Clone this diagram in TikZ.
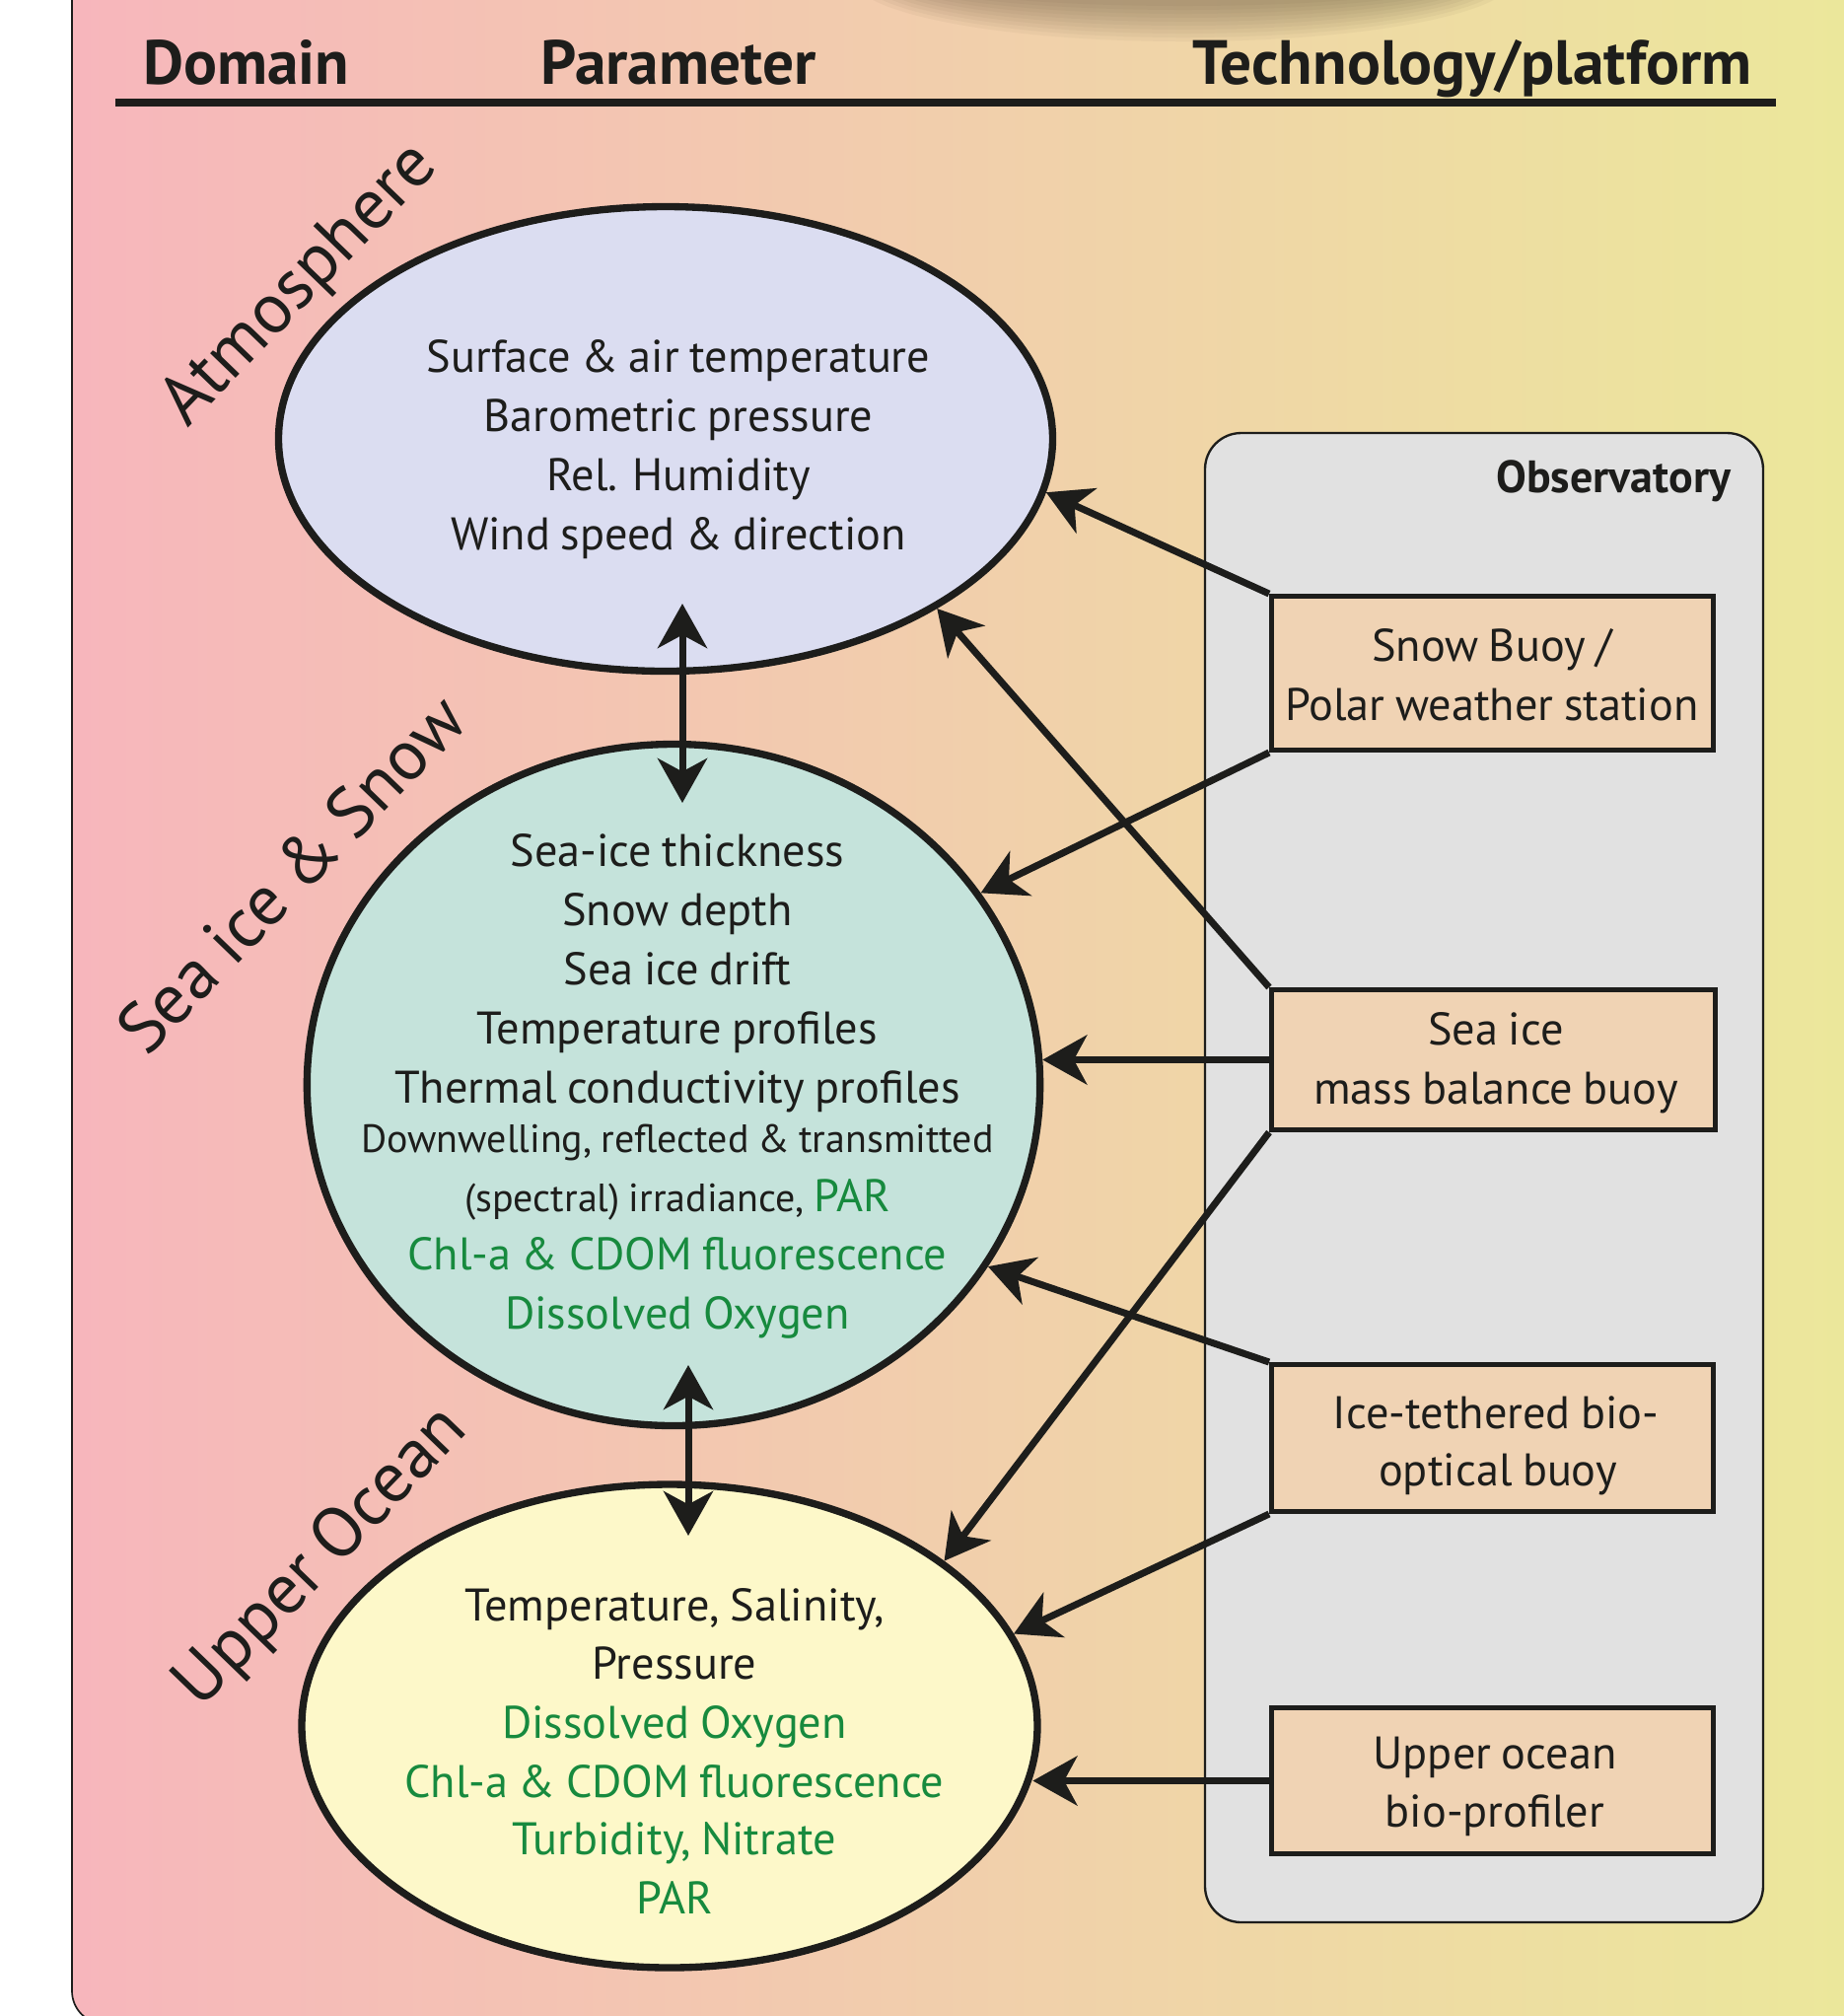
\documentclass[tikz,border=0pt]{standalone}
\usepackage{fontspec}
\setmainfont{PT Sans}[WordSpace=0.85]
\usetikzlibrary{arrows.meta,shapes.geometric,calc}
\definecolor{ink}{HTML}{1D1D1B}
\definecolor{grn}{HTML}{178A3E}
\definecolor{atmc}{HTML}{DBDDF1}
\definecolor{seac}{HTML}{C5E3DB}
\definecolor{oceanc}{HTML}{FDF8C9}
\definecolor{boxc}{HTML}{F0D3B4}
\definecolor{obsc}{HTML}{E1E1E1}
\definecolor{bgL}{HTML}{F7B6BC}
\definecolor{bgM}{HTML}{F2CFB2}
\definecolor{bgR}{HTML}{EBE99A}
\definecolor{shadowc}{HTML}{5A4A35}
\begin{document}
\begin{tikzpicture}[x=0.3pt,y=-0.3pt,
  txt/.style={font=\fontsize{13.9}{17}\selectfont, text=ink, inner sep=0pt, anchor=base},
  gtxt/.style={txt, text=grn},
  stxt/.style={txt, font=\fontsize{12}{15}\selectfont},
  hdr/.style={font=\bfseries\fontsize{19}{22}\selectfont, text=ink, inner sep=0pt, anchor=base},
  dom/.style={font=\fontsize{21.5}{25}\selectfont, text=ink, inner sep=0pt, anchor=base, rotate=46},
  ell/.style={ellipse, draw=ink, line width=2.2pt, inner sep=0pt},
  inst/.style={rectangle, draw=ink, line width=1.5pt, fill=boxc, inner sep=0pt},
  tip/.style={},
  arr/.style={draw=ink, line width=2.1pt, -{Stealth[length=13.5pt,width=15pt,inset=4pt]}},
  darr/.style={draw=ink, line width=2.1pt, {Stealth[length=13.5pt,width=15pt,inset=4pt]}-{Stealth[length=13.5pt,width=15pt,inset=4pt]}}
]
\useasboundingbox (0,0) rectangle (1870,2044);
% background panel
\shadedraw[draw=ink, line width=0.5pt, left color=bgL, middle color=bgM, right color=bgR, rounded corners=10pt]
  (73,-60) rectangle (1930,2052);
% soft shadow at top
\foreach \i in {0,...,9} {
  \fill[shadowc, opacity=0.05] (1200,-22) ellipse [x radius={335-7*\i}, y radius={64-4*\i}];
}
% header
\node[hdr] (hdom) at (250,85) {Domain};
\node[hdr] (hpar) at (688,85) {Parameter};
\node[hdr] (htec) at (1493,85) {Technology/platform};
\coordinate (hl1) at (117,104);
\coordinate (hl2) at (1801,104);
\draw[ink, line width=2.4pt] (hl1) -- (hl2);
% observatory
\node[rectangle, draw=ink, line width=0.7pt, fill=obsc, rounded corners=11pt,
      minimum width=169.8pt, minimum height=453pt, inner sep=0pt] (obs) at (1505,1194) {};
\node[font=\bfseries\fontsize{13.8}{16}\selectfont, text=ink, inner sep=0pt, anchor=base east] (obst) at (1756,499) {Observatory};
% domain ellipses
\node[ell, fill=atmc, minimum width=235.5pt, minimum height=141.3pt] (atm) at (675,445) {};
\node[ell, fill=seac, minimum width=223pt, minimum height=207.3pt] (sea) at (683,1100) {};
\node[ell, fill=oceanc, minimum width=223.8pt, minimum height=147pt] (ocean) at (679,1750) {};
% domain labels
\node[dom] (latm) at (318,302) {Atmosphere};
\node[dom] (lsea) at (313,903) {Sea ice \& Snow};
\node[dom] (locean) at (340,1592) {Upper Ocean};
% atmosphere parameters
\node[txt] (at1) at (688,377) {Surface \& air temperature};
\node[txt] (at2) at (688,437) {Barometric pressure};
\node[txt] (at3) at (688,497) {Rel. Humidity};
\node[txt] (at4) at (688,557) {Wind speed \& direction};
% sea ice parameters
\node[txt] (si1) at (687,878) {Sea-ice thickness};
\node[txt] (si2) at (687,938) {Snow depth};
\node[txt] (si3) at (687,998) {Sea ice drift};
\node[txt] (si4) at (687,1058) {Temperature profiles};
\node[txt] (si5) at (687,1118) {Thermal conductivity profiles};
\node[stxt] (si6) at (687,1168) {Downwelling, reflected \& transmitted};
\node[stxt] (si7) at (687,1228) {(spectral) irradiance, {\fontsize{13.9}{17}\selectfont\color{grn}PAR}};
\node[gtxt] (si8) at (687,1287) {Chl-a \& CDOM fluorescence};
\node[gtxt] (si9) at (687,1347) {Dissolved Oxygen};
% ocean parameters
\node[txt] (oc1) at (684,1643) {Temperature, Salinity,};
\node[txt] (oc2) at (684,1702) {Pressure};
\node[gtxt] (oc3) at (684,1762) {Dissolved Oxygen};
\node[gtxt] (oc4) at (684,1822) {Chl-a \& CDOM fluorescence};
\node[gtxt] (oc5) at (684,1880) {Turbidity, Nitrate};
\node[gtxt] (oc6) at (684,1940) {PAR};
% instruments
\node[inst, minimum width=134.4pt, minimum height=46.8pt] (snow) at (1513.5,682.5) {};
\node[inst, minimum width=135pt, minimum height=42.6pt] (mbb) at (1514.5,1074.5) {};
\node[inst, minimum width=134.4pt, minimum height=44.7pt] (ice) at (1513.5,1458) {};
\node[inst, minimum width=134.4pt, minimum height=44.4pt] (prof) at (1513.5,1805.5) {};
\node[txt] (snowt1) at (1513,670) {Snow Buoy /};
\node[txt] (snowt2) at (1513,730) {Polar weather station};
\node[txt] (mbbt1) at (1517,1059) {Sea ice};
\node[txt] (mbbt2) at (1517,1119) {mass balance buoy};
\node[txt] (icet1) at (1517,1448) {Ice-tethered bio-};
\node[txt] (icet2) at (1519,1506) {optical buoy};
\node[txt] (proft1) at (1516,1793) {Upper ocean};
\node[txt] (proft2) at (1516,1852) {bio-profiler};
% connectors
\draw[arr] (snow.north west) -- (atm.-8);
\draw[arr] (snow.south west) -- (sea.32.5);
\draw[arr] (mbb.north west) -- (atm.-32);
\draw[arr] (mbb.west) -- (mbb.west -| sea.4);
\draw[arr] (mbb.south west) -- (ocean.31.4);
\draw[arr] (ice.north west) -- (sea.-30.4);
\draw[arr] (ice.south west) -- (ocean.15.6);
\draw[arr] (prof.west) -- (prof.west -| ocean.-8);
\coordinate (da1) at (692,612);
\coordinate (da2) at (692,814);
\coordinate (db1) at (698,1384);
\coordinate (db2) at (698,1557);
\draw[darr] (da1) -- (da2);
\draw[darr] (db1) -- (db2);
\end{tikzpicture}
\end{document}
